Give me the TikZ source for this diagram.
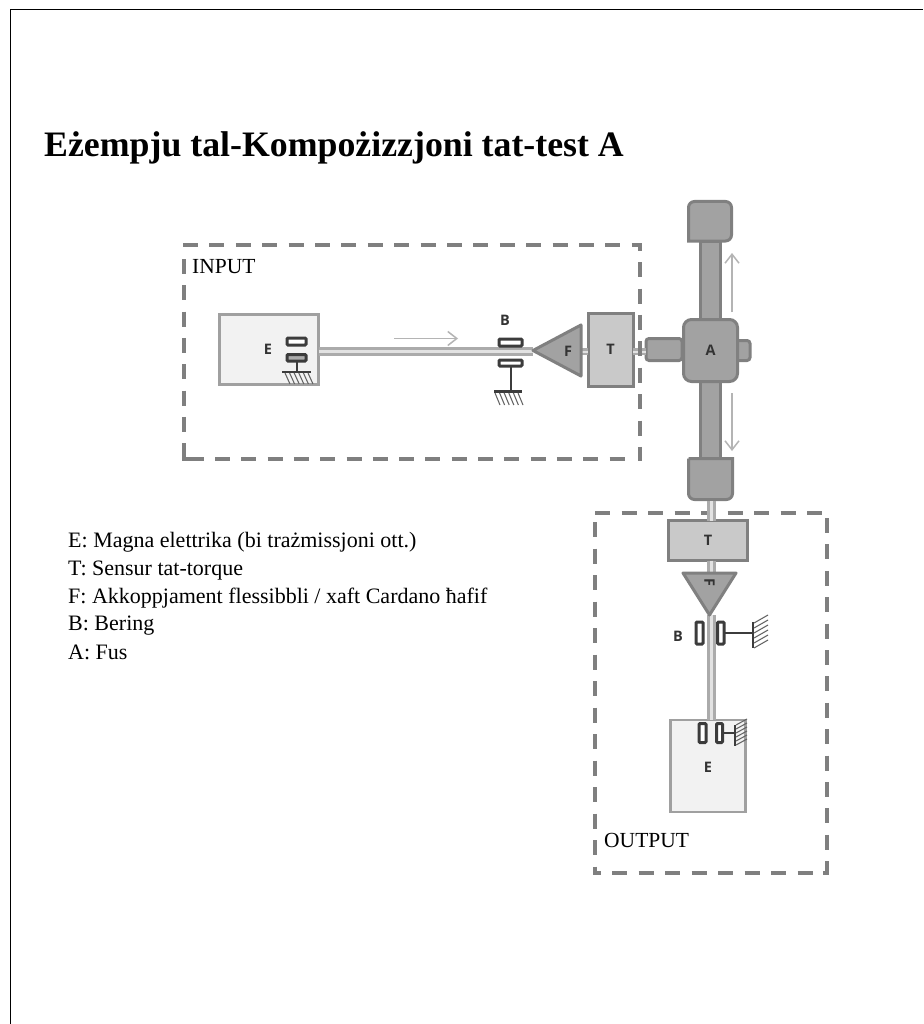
\documentclass[tikz,border=0pt]{standalone}
\usepackage{fontspec}
\setmainfont{Liberation Serif}
\newfontfamily\lblfont{Open Sans}
\usetikzlibrary{arrows.meta}
\definecolor{dashgray}{HTML}{7F7F7F}
\definecolor{edgegray}{HTML}{808080}
\definecolor{bodygray}{HTML}{A2A2A2}
\definecolor{sensorgray}{HTML}{C9C9C9}
\definecolor{motorfill}{HTML}{F2F2F2}
\definecolor{motoredge}{HTML}{A0A0A0}
\definecolor{darkbar}{HTML}{3C3C3C}
\definecolor{shaftgray}{HTML}{ABABAB}
\definecolor{shaftcore}{HTML}{E2E2E2}
\definecolor{arrowgray}{HTML}{B4B4B4}
\tikzset{
  x=1pt,y=-1pt,
  dashseg/.style={draw=dashgray,line width=3.4pt},
  boxnode/.style={inner sep=0pt,outer sep=0pt},
  motorbox/.style={boxnode,draw=motoredge,fill=motorfill,line width=2.8pt},
  sensorbox/.style={boxnode,draw=edgegray,fill=sensorgray,line width=3pt},
  partbody/.style={boxnode,draw=edgegray,fill=bodygray,line width=3pt,rounded corners=#1},
  partbody/.default=2pt,
  coupling/.style={draw=edgegray,fill=bodygray,line width=3pt,line join=round},
  shaftouter/.style={draw=shaftgray,line width=#1},
  shaftinner/.style={draw=shaftcore,line width=#1},
  bearingbar/.style={draw=darkbar,fill=#1,line width=3pt,rounded corners=1pt},
  bearingpost/.style={draw=darkbar,line width=2.8pt},
  hatchline/.style={draw=darkbar!80,line width=1.05pt},
  motion/.style={draw=arrowgray,line width=1.7pt,-{Straight Barb[length=9pt,width=14pt,line width=1.5pt]}},
  boldlabel/.style={font=\lblfont\bfseries\fontsize{14.5}{15}\selectfont,text=black!80,inner sep=0pt},
  grouplabel/.style={font=\fontsize{21.5}{22}\selectfont,inner sep=0pt,anchor=base west},
  legendline/.style={font=\fontsize{22}{22}\selectfont,inner sep=0pt,anchor=base west},
}
\begin{document}
\begin{tikzpicture}
\useasboundingbox (0,0) rectangle (923,1024);
\fill[white] (0,0) rectangle (923,1024);
% page frame (top and left only)
\coordinate (fa) at (10.5,1024); \coordinate (fb) at (10.5,9.5); \coordinate (fc) at (923,9.5);
\draw[black,line width=1.1pt] (fa) -- (fb) -- (fc);
% title
\node[font=\bfseries\fontsize{35.8}{38}\selectfont,inner sep=0pt,anchor=base west] (title) at (44,157) {Eżempju tal-Kompożizzjoni tat-test A};
% legend
\node[legendline] (l1) at (68,547) {E: Magna elettrika (bi trażmissjoni ott.)};
\node[legendline] (l2) at (68,575) {T: Sensur tat-torque};
\node[legendline] (l3) at (68,603) {F: Akkoppjament flessibbli / xaft Cardano ħafif};
\node[legendline] (l4) at (68,630) {B: Bering};
\node[legendline] (l5) at (68,659) {A: Fus};
% INPUT group frame: top, left, bottom dashes
\foreach \i in {0,...,17}{\draw[dashseg] ({183+\i*26.4},245) -- ({min(198+\i*26.4,641.7)},245);}
\foreach \i in {0,...,7}{\draw[dashseg] (184,{259+\i*26.3}) -- (184,{min(274+\i*26.3,460.7)});}
\foreach \i in {0,...,16}{\draw[dashseg] ({max(188.7+\i*26.3,182.3)},459) -- ({203.7+\i*26.3},459);}
\draw[dashseg] (182.3,459) -- (190,459);
% OUTPUT group frame
\foreach \i in {0,...,8}{\draw[dashseg] ({595+\i*26.5},513) -- ({610+\i*26.5},513);}
\foreach \i in {0,...,13}{\draw[dashseg] (827,{518+\i*26.4}) -- (827,{min(533+\i*26.4,874.7)});}
\foreach \i in {0,...,7}{\draw[dashseg] ({612+\i*26.5},873) -- ({627+\i*26.5},873);}
\draw[dashseg] (593.3,873) -- (600.5,873);
\draw[dashseg] (823,873) -- (828.7,873);
\foreach \i in {0,...,13}{\draw[dashseg] (595,{522+\i*26.5}) -- (595,{min(537+\i*26.5,874.7)});}
\node[grouplabel] (inlab) at (192,273) {INPUT};
\node[grouplabel] (outlab) at (604,847) {OUTPUT};
% --- spindle A ---
\node[partbody=3pt,minimum width=36pt,minimum height=22pt] (stubL) at (664,349.5) {};
\node[partbody=3pt,minimum width=20pt,minimum height=20pt] (stubR) at (740,350.5) {};
\node[partbody=0pt,minimum width=20pt,minimum height=80pt] (barT) at (710.5,281) {};
\node[partbody=0pt,minimum width=20pt,minimum height=80pt] (barB) at (710.5,420) {};
\draw[partbody=0pt] (688.5,241) [rounded corners=6pt] -- (688.5,201.5) -- (731.5,201.5) -- (731.5,241) [sharp corners] -- cycle;
\draw[partbody=0pt] (688.5,458.5) -- (732.5,458.5) [rounded corners=6pt] -- (732.5,499.5) -- (688.5,499.5) -- (688.5,458.5);
\coordinate (capBlow) at (711.5,501);
\node[partbody=8pt,minimum width=54pt,minimum height=62pt] (A) at (710.5,350.5) {};
\node[boldlabel] at (A) {A};
\coordinate (au1) at (732,312); \coordinate (au2) at (732,253);
\coordinate (ad1) at (732,393); \coordinate (ad2) at (732,451);
\draw[motion] (au1) -- (au2);
\draw[motion] (ad1) -- (ad2);
% --- input line ---
\node[motorbox,minimum width=99.5pt,minimum height=70.5pt] (E1) at (269,349.5) {};
\node[boldlabel] at (268,349.5) {E};
\node[sensorbox,minimum width=45pt,minimum height=73pt] (T1) at (610.5,349.5) {};
\node[boldlabel] at (T1) {T};
\coordinate (Fapex) at (533,350.5);
\coordinate (Fup) at (581,325);
\coordinate (Fdn) at (581,376);
\coordinate (shafty) at (0,351.5);
\draw[shaftouter=9pt] (E1.east |- shafty) -- (Fapex |- shafty);
\draw[shaftinner=2.4pt] (E1.east |- shafty) -- (Fapex |- shafty);
\draw[shaftouter=7pt] (Fup |- shafty) -- (T1.west |- shafty);
\draw[shaftinner=2pt] (Fup |- shafty) -- (T1.west |- shafty);
\draw[shaftouter=7pt] (T1.east |- shafty) -- (stubL.west |- shafty);
\draw[shaftinner=2pt] (T1.east |- shafty) -- (stubL.west |- shafty);
% INPUT group frame: right side, over the shaft
\foreach \i in {0,...,8}{\draw[dashseg] (640,{max(235.7+\i*26.4,243.3)}) -- (640,{min(250.7+\i*26.4,460.7)});}
\draw[coupling] (Fapex) -- (Fup) -- (Fdn) -- cycle;
\node[boldlabel] (F1) at (568,351) {F};
% bearing in motor E
\draw[bearingbar=white] (287,338) rectangle (306,345);
\draw[bearingbar=shaftgray] (287,354.5) rectangle (306,361);
\draw[bearingpost] (297,361) -- (297,372);
\draw[bearingpost] (282,372) -- (311,372);
\foreach \i in {0,...,5}{\draw[hatchline] ({285+\i*4.6},373) -- ({290+\i*4.6},384);}
% arrow on input shaft
\coordinate (sa1) at (394,338.5); \coordinate (sa2) at (458,338.5);
\draw[motion] (sa1) -- (sa2);
% bearing B (input)
\node[boldlabel] at (505,320) {B};
\draw[bearingbar=white] (499,339) rectangle (522,346);
\draw[bearingbar=white] (499,360) rectangle (522,366);
\draw[bearingpost] (511,367) -- (511,391);
\draw[bearingpost] (494,391.5) -- (522,391.5);
\foreach \i in {0,...,5}{\draw[hatchline] ({495+\i*4.6},393) -- ({500+\i*4.6},405);}
% --- output line ---
\node[sensorbox,minimum width=79pt,minimum height=40pt] (T2) at (708,540.5) {};
\node[boldlabel] at (T2) {T};
\node[motorbox,minimum width=75.5pt,minimum height=92pt] (E2) at (708,766) {};
\node[boldlabel] at (708,767) {E};
\coordinate (Fl) at (683,573);
\coordinate (Fr) at (736,573);
\coordinate (Fb) at (709.5,615);
\draw[shaftouter=9pt] (capBlow) -- (T2.north -| capBlow);
\draw[shaftinner=2.4pt] (capBlow) -- (T2.north -| capBlow);
\draw[shaftouter=9pt] (T2.south -| capBlow) -- (Fl -| capBlow);
\draw[shaftinner=2.4pt] (T2.south -| capBlow) -- (Fl -| capBlow);
\draw[shaftouter=9pt] (Fb -| capBlow) -- (E2.north -| capBlow);
\draw[shaftinner=2.4pt] (Fb -| capBlow) -- (E2.north -| capBlow);
\draw[coupling] (Fl) -- (Fr) -- (Fb) -- cycle;
\node[boldlabel,rotate=-90] (F2) at (709.5,582.5) {F};
% bearing B (output)
\node[boldlabel] at (678,636) {B};
\draw[bearingbar=white] (696,622) rectangle (703,644);
\draw[bearingbar=white] (717.5,622) rectangle (724,644);
\draw[bearingpost] (725,633) -- (753,633);
\draw[bearingpost] (753,622) -- (753,648);
\foreach \i in {0,...,5}{\draw[hatchline] (754,{623+\i*5}) -- (768,{615+\i*5});}
% bearing in output motor
\draw[bearingbar=white] (699,723.5) rectangle (706,742.5);
\draw[bearingbar=white] (716.5,723.5) rectangle (722.5,742.5);
\draw[bearingpost] (723,733) -- (735,733);
\draw[bearingpost] (735,725) -- (735,746);
\foreach \i in {0,...,5}{\draw[hatchline] (736,{725+\i*4}) -- (747,{719+\i*4});}
\end{tikzpicture}
\end{document}
